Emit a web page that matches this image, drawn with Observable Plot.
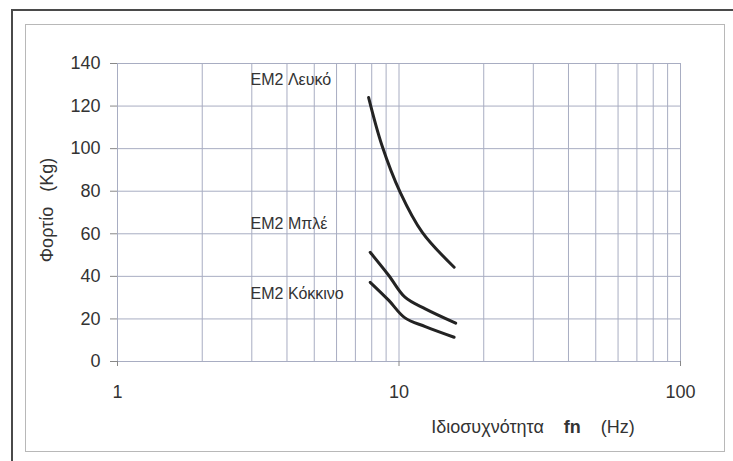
<!DOCTYPE html>
<html>
<head>
<meta charset="utf-8">
<script src="https://cdn.jsdelivr.net/npm/d3@7"></script>
<script src="https://cdn.jsdelivr.net/npm/@observablehq/plot@0.6"></script>
<style>
  html, body { margin: 0; padding: 0; background: #fff; }
  #wrap { position: relative; width: 733px; height: 461px; overflow: hidden; background: #fff;
          font-family: "Liberation Sans", Arial, sans-serif; }
  #outerTop { position: absolute; left: 11px; top: 9px; width: 722px; height: 0; border-top: 2px solid #4a4a4a; }
  #outerLeft { position: absolute; left: 11px; top: 9px; width: 0; height: 452px; border-left: 2px solid #4a4a4a; }
  #inner { position: absolute; left: 25px; top: 24px; width: 698px; height: 426px; border: 1px solid #b8b8b8; }
  #chart { position: absolute; left: 0; top: 0; }
  #xlabel { position: absolute; left: 533px; top: 427px; font-size: 18px; color: #333;
            white-space: pre; transform: translate(-50%, -50%); }
  #ylabel { position: absolute; left: 47px; top: 210px; font-size: 18px; color: #333; white-space: pre;
            transform: translate(-50%, -50%) rotate(-90deg); }
</style>
</head>
<body>
<div id="wrap">
  <div id="outerTop"></div>
  <div id="outerLeft"></div>
  <div id="inner"></div>
  <div id="chart"></div>
  <div id="ylabel">Φορτίο   (Kg)</div>
  <div id="xlabel">Ιδιοσυχνότητα    <b>fn</b>    (Hz)</div>
</div>
<script>
// Data
const series = ["EM2 Λευκό", "EM2 Μπλέ", "EM2 Κόκκινο"];
const freqLeuko   = [7.8, 8.7, 10.1, 12.1, 15.7];
const loadLeuko   = [124, 101.5, 79.5, 60.7, 44.3];
const freqBlue    = [7.9, 9.2, 10.5, 12.4, 15.9];
const loadBlue    = [51.3, 40.4, 30.2, 24.7, 18];
const freqRed     = [7.9, 9.2, 10.5, 12.4, 15.7];
const loadRed     = [37.2, 28.7, 20.5, 16.4, 11.4];
const yTicks = [0, 20, 40, 60, 80, 100, 120, 140];
const xTicks = [1, 10, 100];
const xGrid = [1,2,3,4,5,6,7,8,9,10,20,30,40,50,60,70,80,90,100];

const rows = [];
[[freqLeuko, loadLeuko], [freqBlue, loadBlue], [freqRed, loadRed]].forEach(([fs, ls], i) => {
  fs.forEach((f, j) => rows.push({series: series[i], f, load: ls[j]}));
});

// label anchor positions (in data units)
const labelRows = [
  {name: series[0], f: 2.97, load: 132.5},
  {name: series[1], f: 2.97, load: 64.8},
  {name: series[2], f: 2.97, load: 31.9}
];

const gridColor = "#a8adc2";

const chart = Plot.plot({
  width: 733,
  height: 461,
  marginLeft: 117,
  marginRight: 53,
  marginTop: 63,
  marginBottom: 100,
  style: {background: "transparent", fontFamily: "'Liberation Sans', Arial, sans-serif", color: "#333"},
  x: {type: "log", domain: [1, 100]},
  y: {domain: [0, 140]},
  marks: [
    Plot.gridX(xGrid, {stroke: gridColor, strokeOpacity: 1, strokeWidth: 1}),
    Plot.gridY(yTicks, {stroke: gridColor, strokeOpacity: 1, strokeWidth: 1}),
    Plot.axisX(xTicks, {tickSize: 5, tickPadding: 19, fontSize: 18, label: null, tickFormat: d => String(d), stroke: "#888", fill: "#333"}),
    Plot.axisY(yTicks, {tickSize: 7, tickPadding: 10, fontSize: 18, label: null, stroke: "#888", fill: "#333"}),
    Plot.line(rows, {x: "f", y: "load", z: "series", curve: "catmull-rom", stroke: "#232323", strokeWidth: 3}),
    Plot.text(labelRows, {x: "f", y: "load", text: "name", textAnchor: "start", fontSize: 16, fill: "#333"})
  ]
});
document.getElementById("chart").appendChild(chart);
</script>
</body>
</html>
